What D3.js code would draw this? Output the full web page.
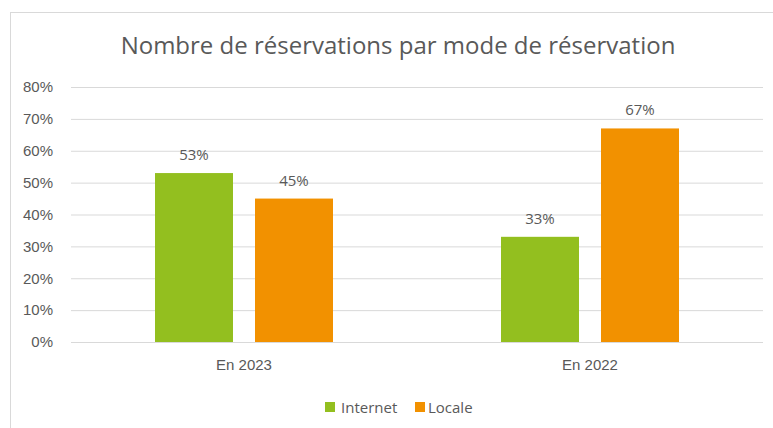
<!DOCTYPE html>
<html>
<head>
<meta charset="utf-8">
<script src="https://cdn.jsdelivr.net/npm/d3@7"></script>
<style>
  body { margin: 0; background: #fff; }
  svg { display: block; font-family: "Open Sans", "Lato", sans-serif; }
</style>
</head>
<body>
<svg id="chart"></svg>
<script>
//------ Données ------
const categories = ["En 2023", "En 2022"]
const series = ["Internet", "Locale"]
const internetValues = [0.53, 0.33]
const localeValues = [0.45, 0.67]
const yTicks = [0, 0.1, 0.2, 0.3, 0.4, 0.5, 0.6, 0.7, 0.8]

const colors = { Internet: "#93bf1f", Locale: "#f29100" }
const textColor = "#595959"

const width = 773, height = 428
const margin = { top: 87, right: 10, bottom: 86, left: 71 }

const svg = d3.select("#chart")
    .attr("width", width)
    .attr("height", height)

// cadre
svg.append("rect")
    .attr("x", 10.5).attr("y", 12.5)
    .attr("width", width + 20).attr("height", height + 20)
    .attr("fill", "#fff")
    .attr("stroke", "#d9d9d9")

// titre
svg.append("text")
    .attr("x", 398).attr("y", 54)
    .attr("text-anchor", "middle")
    .attr("fill", textColor)
    .style("font-size", "24px")
    .text("Nombre de réservations par mode de réservation")

// échelles
const x0 = d3.scaleBand()
    .domain(categories)
    .range([margin.left, width - margin.right])
    .padding(0)

const x1 = d3.scaleBand()
    .domain(series)
    .range([84, 262])
    .paddingInner(0.22)
    .paddingOuter(0)

const y = d3.scaleLinear()
    .domain([0, 0.8])
    .range([height - margin.bottom, margin.top])

// grille + axe y
const yAxis = svg.append("g")
    .attr("transform", `translate(${margin.left},0)`)
    .call(d3.axisLeft(y).tickValues(yTicks).tickFormat(d3.format(".0%")).tickSize(-(width - margin.right - margin.left)).tickPadding(18))
yAxis.select(".domain").remove()
yAxis.selectAll(".tick line").attr("stroke", "#d9d9d9")
yAxis.selectAll(".tick text").attr("fill", textColor).style("font-size", "15px")

// données par groupe
const data = categories.map((c, i) => ({
    cat: c,
    values: [{ key: "Internet", v: internetValues[i] }, { key: "Locale", v: localeValues[i] }]
}))

const groups = svg.selectAll("g.group")
    .data(data)
    .enter()
    .append("g")
    .attr("class", "group")
    .attr("transform", d => `translate(${x0(d.cat)},0)`)

groups.selectAll("rect")
    .data(d => d.values)
    .enter()
    .append("rect")
    .attr("x", d => x1(d.key))
    .attr("y", d => y(d.v))
    .attr("width", x1.bandwidth())
    .attr("height", d => y(0) - y(d.v))
    .attr("fill", d => colors[d.key])

groups.selectAll("text.label")
    .data(d => d.values)
    .enter()
    .append("text")
    .attr("class", "label")
    .attr("x", d => x1(d.key) + x1.bandwidth() / 2)
    .attr("y", d => y(d.v) - 13)
    .attr("text-anchor", "middle")
    .attr("fill", textColor)
    .style("font-size", "15px")
    .text(d => d3.format(".0%")(d.v))

// axe x
const xAxis = svg.append("g")
    .attr("transform", `translate(0,${y(0)})`)
    .call(d3.axisBottom(x0).tickSize(0).tickPadding(17))
xAxis.select(".domain").remove()
xAxis.selectAll(".tick text").attr("fill", textColor).style("font-size", "15px")

// légende
const legendPos = { Internet: 325, Locale: 415 }
const legend = svg.selectAll("g.legend")
    .data(series)
    .enter()
    .append("g")
    .attr("class", "legend")
    .attr("transform", d => `translate(${legendPos[d]},402)`)

legend.append("rect")
    .attr("width", 10).attr("height", 10)
    .attr("fill", d => colors[d])

legend.append("text")
    .attr("x", d => d == "Internet" ? 16 : 13).attr("y", 10.5)
    .attr("fill", textColor)
    .style("font-size", "15px")
    .text(d => d)
</script>
</body>
</html>
